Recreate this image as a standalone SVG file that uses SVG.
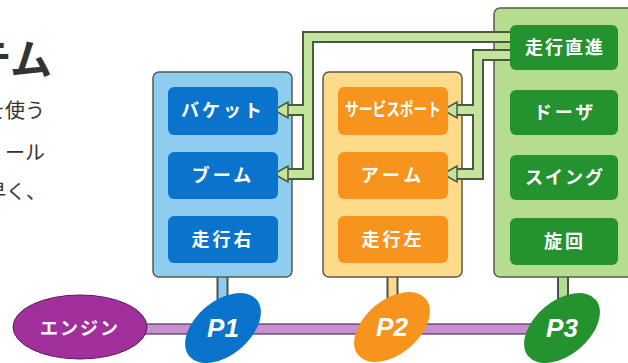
<svg xmlns="http://www.w3.org/2000/svg" width="628" height="363" viewBox="0 0 628 363">
<style>
.jp{font-family:"Noto Sans CJK JP","Noto Sans",sans-serif}
.body{font-size:20px;fill:#333}
.lbl{font-size:18px;font-weight:bold;fill:#fff;text-anchor:middle}
.box{stroke:#5a5a50;stroke-width:1.5}
.btn{stroke:none}
.pipeO{fill:none;stroke:#4a5840;stroke-width:12;stroke-linejoin:miter}
.pipeI{fill:none;stroke:#c4e49c;stroke-width:8;stroke-linejoin:miter}
.head{fill:#c4e49c;stroke:#4a5840;stroke-width:1.5;stroke-linejoin:miter}
.stubO{stroke:#4a5050;stroke-width:12}
.p{font-family:"Liberation Sans",Arial,sans-serif;font-size:26px;font-weight:bold;font-style:italic;fill:#fff;text-anchor:middle}
</style>
<rect width="628" height="363" fill="#fff"/>
<g id="intro" class="jp">
<text x="52" y="75" font-size="42" font-weight="bold" fill="#333" text-anchor="end">テム</text>
<text class="body" x="45" y="118" text-anchor="end">を使う</text>
<text class="body" x="45" y="160" text-anchor="end">ール</text>
<text class="body" x="46" y="199" text-anchor="end">早く、</text>
</g>
<g id="stubs">
<line class="stubO" x1="222.5" y1="276" x2="222.5" y2="305"/>
<line x1="222.5" y1="276" x2="222.5" y2="305" stroke="#8ecdf0" stroke-width="8"/>
<line class="stubO" x1="392.5" y1="276" x2="392.5" y2="305"/>
<line x1="392.5" y1="276" x2="392.5" y2="305" stroke="#fddb8a" stroke-width="8"/>
<line class="stubO" x1="563" y1="276" x2="563" y2="305"/>
<line x1="563" y1="276" x2="563" y2="305" stroke="#b5dd8f" stroke-width="8"/>
</g>
<g id="shaft">
<rect x="140" y="324" width="395" height="10" fill="#c88fd2" stroke="#4a3a4a" stroke-width="1.2"/>
</g>
<g id="group-p1">
<rect class="box" x="153" y="72" width="139" height="205" rx="6" fill="#8ecdf0"/>
</g>
<g id="group-p2">
<rect class="box" x="323" y="72" width="139" height="205" rx="6" fill="#fddb8a"/>
</g>
<g id="group-p3">
<rect class="box" x="494" y="8" width="145" height="269" rx="6" fill="#b5dd8f"/>
</g>
<g id="connectors">
<path class="pipeO" d="M512 37 H308 V174 H286 M308 110 H286"/>
<path class="pipeO" d="M512 55 H478 V174 H455 M478 110 H455"/>
<path class="pipeI" d="M512 37 H308 V174 H286 M308 110 H286"/>
<path class="pipeI" d="M512 55 H478 V174 H455 M478 110 H455"/>
<polygon class="head" points="274,110 288,102 288,118"/>
<polygon class="head" points="274,174 288,166 288,182"/>
<polygon class="head" points="443,110 457,102 457,118"/>
<polygon class="head" points="443,174 457,166 457,182"/>
</g>
<g id="bucket" class="jp"><rect class="btn" x="168" y="87" width="110" height="48" rx="6" fill="#0a74cc"/><text class="lbl" x="223" y="117" letter-spacing="3">バケット</text></g>
<g id="boom" class="jp"><rect class="btn" x="168" y="152" width="110" height="47" rx="6" fill="#0a74cc"/><text class="lbl" x="223" y="182" letter-spacing="3">ブーム</text></g>
<g id="travel-right" class="jp"><rect class="btn" x="168" y="216" width="110" height="47" rx="6" fill="#0a74cc"/><text class="lbl" x="223" y="246" letter-spacing="3">走行右</text></g>
<g id="service-port" class="jp"><rect class="btn" x="338" y="87" width="110" height="48" rx="6" fill="#f7941d"/><text class="lbl" x="393" y="116" font-size="15" textLength="96" lengthAdjust="spacingAndGlyphs">サービスポート</text></g>
<g id="arm" class="jp"><rect class="btn" x="338" y="152" width="110" height="47" rx="6" fill="#f7941d"/><text class="lbl" x="393" y="182" letter-spacing="4">アーム</text></g>
<g id="travel-left" class="jp"><rect class="btn" x="338" y="216" width="110" height="47" rx="6" fill="#f7941d"/><text class="lbl" x="393" y="246" letter-spacing="3">走行左</text></g>
<g id="travel-straight" class="jp"><rect class="btn" x="510" y="25" width="108" height="45" rx="6" fill="#23922f"/><text class="lbl" x="565" y="54" font-size="19" letter-spacing="2">走行直進</text></g>
<g id="dozer" class="jp"><rect class="btn" x="510" y="90" width="108" height="45" rx="6" fill="#23922f"/><text class="lbl" x="565" y="119" letter-spacing="3">ドーザ</text></g>
<g id="swing" class="jp"><rect class="btn" x="510" y="155" width="108" height="45" rx="6" fill="#23922f"/><text class="lbl" x="565" y="184" letter-spacing="2">スイング</text></g>
<g id="slew" class="jp"><rect class="btn" x="510" y="218" width="108" height="47" rx="6" fill="#23922f"/><text class="lbl" x="565" y="248" letter-spacing="3">旋回</text></g>
<g id="engine" class="jp"><ellipse cx="80" cy="327" rx="67" ry="32" fill="#a1309c" stroke="#5a1a55" stroke-width="1"/><text class="lbl" x="80" y="335" font-size="22" letter-spacing="2">エンジン</text></g>
<g id="p1"><ellipse cx="223" cy="328" rx="44" ry="27" transform="rotate(-40 223 328)" fill="#0a74cc"/><text class="p" x="223" y="337">P1</text></g>
<g id="p2"><ellipse cx="392" cy="327" rx="44" ry="27" transform="rotate(-40 392 327)" fill="#f7941d"/><text class="p" x="392" y="336">P2</text></g>
<g id="p3"><ellipse cx="562" cy="328" rx="44" ry="27" transform="rotate(-40 562 328)" fill="#23922f"/><text class="p" x="562" y="337">P3</text></g>
</svg>
